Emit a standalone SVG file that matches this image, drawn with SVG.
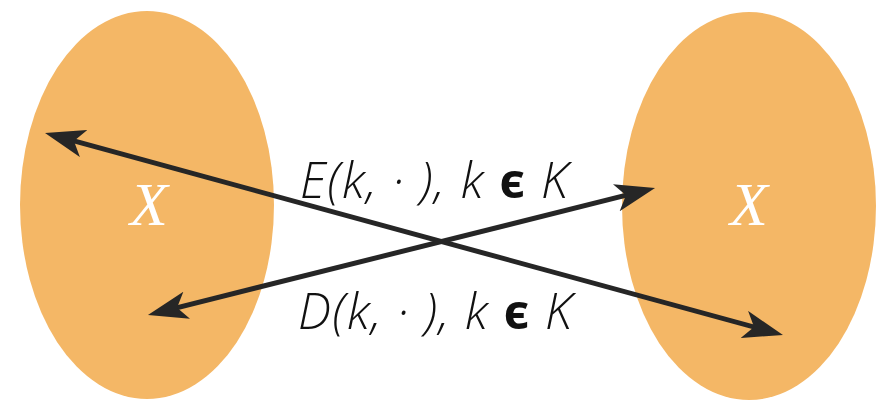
<svg xmlns="http://www.w3.org/2000/svg" width="877" height="400" viewBox="0 0 877 400">
  <style>
    .set { fill: #F4B766; }
    .setlabel { font-family: "Liberation Serif", serif; font-style: italic; font-size: 62px; fill: #ffffff; text-anchor: middle; }
    .maplabel { font-family: "Open Sans", "Noto Sans", sans-serif; font-style: italic; font-weight: 300; font-size: 49px; fill: #111111; }
    .arrow { stroke: #262626; stroke-width: 5; fill: none; marker-start: url(#head); marker-end: url(#head); }
  </style>
  <defs>
    <marker id="head" viewBox="0 0 40 28" refX="28" refY="14" markerWidth="40" markerHeight="28" markerUnits="userSpaceOnUse" orient="auto-start-reverse">
      <path d="M0,0 L40,14 L0,28 L10,14 Z" fill="#262626"/>
    </marker>
  </defs>
  <rect width="877" height="400" fill="#ffffff"/>
  <g id="set-left">
    <ellipse class="set" cx="147" cy="205" rx="127" ry="194"/>
    <text class="setlabel" x="149" y="225">X</text>
  </g>
  <g id="set-right">
    <ellipse class="set" cx="749" cy="206" rx="127" ry="194"/>
    <text class="setlabel" x="749" y="225">X</text>
  </g>
  <g id="connectors">
    <line class="arrow" x1="56.6" y1="136.2" x2="771.4" y2="331.8"/>
    <line class="arrow" x1="159.6" y1="312.1" x2="643.4" y2="190.9"/>
  </g>
  <g id="labels">
    <text class="maplabel" x="300" y="198" textLength="268" lengthAdjust="spacing">E(k, · ), k <tspan font-style="normal" font-weight="bold">ϵ</tspan> K</text>
    <text class="maplabel" x="298" y="329" textLength="274" lengthAdjust="spacing">D(k, · ), k <tspan font-style="normal" font-weight="bold">ϵ</tspan> K</text>
  </g>
</svg>
